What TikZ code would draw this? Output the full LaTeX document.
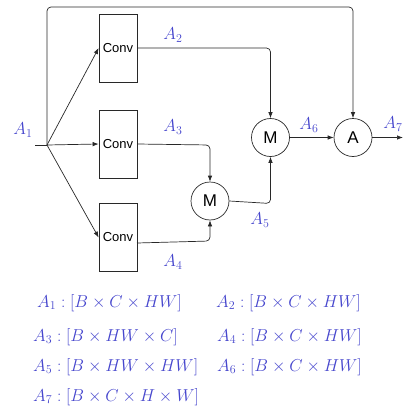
\documentclass[tikz,border=0pt]{standalone}
\usepackage{fontspec}
\newfontfamily\diagsans{Liberation Sans}
\usetikzlibrary{arrows.meta,calc}
\definecolor{lblue}{RGB}{70,70,205}
\definecolor{edge}{RGB}{40,40,40}
\begin{document}
\begin{tikzpicture}[x=1pt,y=-1pt,
  convbox/.style={draw=edge,line width=0.7pt,minimum width=38pt,minimum height=68pt,inner sep=0pt,font=\diagsans\fontsize{13}{15}\selectfont},
  opnode/.style={draw=edge,line width=0.7pt,circle,minimum size=38pt,inner sep=0pt,font=\diagsans\fontsize{17}{19}\selectfont},
  conn/.style={draw=edge,line width=0.7pt,rounded corners=4pt},
  arr/.style={conn,-{Latex[length=6pt,width=4.5pt]}},
  lab/.style={text=lblue,font=\fontsize{17}{20}\selectfont,inner sep=0pt},
  dimtext/.style={text=lblue,font=\fontsize{17}{20}\selectfont,inner sep=0pt,anchor=west}]
\useasboundingbox (0,0) rectangle (405,415);
\node[convbox] (conv1) at (118,48) {Conv};
\node[convbox] (conv2) at (118,144) {Conv};
\node[convbox] (conv3) at (118,237.5) {Conv};
\node[opnode] (m1) at (270.5,137.5) {M};
\node[opnode] (m2) at (210,201) {M};
\node[opnode] (a) at (353,137.5) {A};
\coordinate (in) at (35,145);
\coordinate (split) at (47,145);
\coordinate (out) at (403,137.5);
\coordinate (tl) at (47,7);
\coordinate (tr) at (353,7);
\coordinate (c2) at (270.5,48);
\coordinate (c3) at (210,145);
\coordinate (c4a) at (137,243);
\coordinate (c4) at (210,241);
\coordinate (c5) at (270.5,203.5);
\draw[conn] (in) -- (split);
\draw[arr] (split) -- (conv1.west);
\draw[arr] (split) -- (conv2.west);
\draw[arr] (split) -- (conv3.west);
\draw[arr] (split) -- (tl) -- (tr) -- (a.north);
\draw[arr] (conv1.east) -- (c2) -- (m1.north);
\draw[arr] (conv2.east) -- (c3) -- (m2.north);
\draw[arr] (c4a) -- (c4) -- (m2.south);
\draw[arr] (m2.east) -- (c5) -- (m1.south);
\draw[arr] (m1.east) -- (a.west);
\draw[arr] (a.east) -- (out);
\node[lab] (l1) at (23,130) {$A_1$};
\node[lab] (l2) at (173,35) {$A_2$};
\node[lab] (l3) at (173,127) {$A_3$};
\node[lab] (l4) at (173,262) {$A_4$};
\node[lab] (l5) at (260,220) {$A_5$};
\node[lab] (l6) at (309,125) {$A_6$};
\node[lab] (l7) at (393,124) {$A_7$};
\node[dimtext] (s1) at (37,303) {$A_1:[B\times C\times HW]$};
\node[dimtext] (s2) at (216,303) {$A_2:[B\times C\times HW]$};
\node[dimtext] (s3) at (33,337) {$A_3:[B\times HW\times C]$};
\node[dimtext] (s4) at (217,337) {$A_4:[B\times C\times HW]$};
\node[dimtext] (s5) at (33,367) {$A_5:[B\times HW\times HW]$};
\node[dimtext] (s6) at (217,367) {$A_6:[B\times C\times HW]$};
\node[dimtext] (s7) at (33,397) {$A_7:[B\times C\times H\times W]$};
\end{tikzpicture}
\end{document}
